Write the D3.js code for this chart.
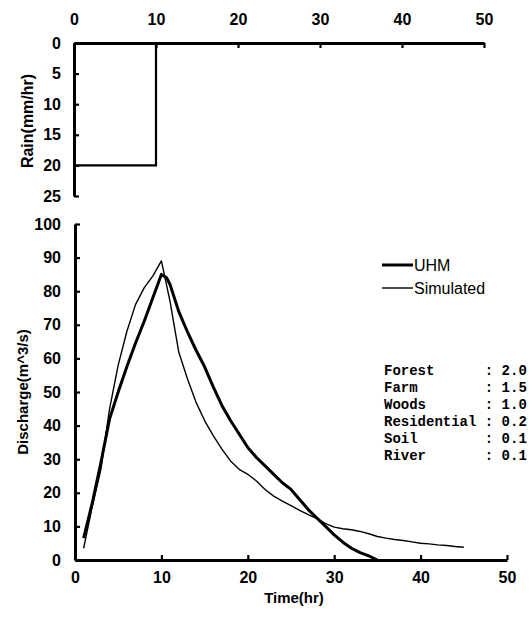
<!DOCTYPE html>
<html>
<head>
<meta charset="utf-8">
<script src="https://cdn.jsdelivr.net/npm/d3@7"></script>
<style>
  body { margin: 0; background: #fff; }
  text { font-family: "Liberation Sans", Arial, sans-serif; fill: #000; }
  .mono { font-family: "Liberation Mono", "DejaVu Sans Mono", monospace; font-weight: bold; font-size: 14px; }
</style>
</head>
<body>
<div class="chart"></div>
<script>
var svgWidth = 530;
var svgHeight = 617;

// rainfall hyetograph (mm/hr)
var rainTime = [0, 10, 10];
var rainValue = [20, 20, 0];

// discharge series (m^3/s)
var uhmTime = [1, 2, 3, 4, 5, 6, 7, 8, 9, 10, 10.6, 11, 12, 13, 14, 15, 16, 17, 18, 19, 20,
  21, 22, 23, 24, 25, 26, 27, 28, 29, 30, 31, 32, 33, 34, 35];
var uhmValue = [6.5, 17, 29, 42, 50, 57.5, 64.5, 71, 78, 85, 84, 82, 74, 68, 62.5, 57.5, 51.5, 46, 41.5, 37.5, 33.5,
  30.5, 28, 25.5, 23, 21, 18, 15, 12.5, 10, 7.5, 5.3, 3.5, 2.2, 1.2, 0];

var simTime = [1, 2, 3, 4, 5, 6, 7, 8, 9, 10, 11, 12, 13, 14, 15, 16, 17, 18, 19, 20,
  21, 22, 23, 24, 25, 26, 27, 28, 29, 30, 31, 32, 33, 34, 35, 36, 37, 38, 39, 40,
  41, 42, 43, 44, 45];
var simValue = [3.5, 16, 27, 45, 58, 68, 76, 81, 84.5, 89, 77, 62, 54, 47, 41.5, 37, 33, 29.5, 27, 25.5,
  23.5, 21, 19, 17.5, 16.2, 14.8, 13.5, 12.3, 10.8, 9.8, 9.3, 9, 8.5, 7.8, 7, 6.5, 6.1, 5.8, 5.4, 5,
  4.8, 4.5, 4.3, 4, 3.8];

var topTicks = [0, 10, 20, 30, 40, 50];
var rainTicks = [0, 5, 10, 15, 20, 25];
var timeTicks = [0, 10, 20, 30, 40, 50];
var flowTicks = [0, 10, 20, 30, 40, 50, 60, 70, 80, 90, 100];

var legendNames = ["UHM", "Simulated"];
var landUse = ["Forest", "Farm", "Woods", "Residential", "Soil", "River"];
var landValue = ["2.0", "1.5", "1.0", "0.2", "0.1", "0.1"];

var svg = d3.select(".chart")
  .append("svg")
  .attr("width", svgWidth)
  .attr("height", svgHeight);

// scales
var xTop = d3.scaleLinear().domain([0, 50]).range([74, 484]);
var yRain = d3.scaleLinear().domain([0, 25]).range([43, 196]);
var xBot = d3.scaleLinear().domain([0, 50]).range([75, 507]);
var yFlow = d3.scaleLinear().domain([0, 100]).range([560, 224]);

function styleAxis(g) {
  g.attr("font-family", null).attr("font-size", null);
  g.select(".domain").attr("stroke-width", 3);
  g.selectAll(".tick line").attr("stroke-width", 2.2);
  g.selectAll(".tick text")
    .style("font-size", "16px")
    .style("font-weight", "bold");
}

// rain chart axes
svg.append("g")
  .attr("transform", `translate(0, ${yRain(0)})`)
  .call(d3.axisTop(xTop).tickValues(topTicks).tickSizeInner(-5).tickSizeOuter(0).tickPadding(18))
  .call(styleAxis);

svg.append("g")
  .attr("transform", `translate(${xTop(0)}, 0)`)
  .call(d3.axisLeft(yRain).tickValues(rainTicks).tickSizeInner(-5).tickSizeOuter(0).tickPadding(13))
  .call(styleAxis);

var rainLine = d3.line()
  .x(d => xTop(d[0]))
  .y(d => yRain(d[1]));

svg.append("path")
  .datum(rainTime.map((t, i) => [t, rainValue[i]]))
  .attr("d", rainLine)
  .attr("fill", "none")
  .attr("stroke", "#000")
  .attr("stroke-width", 2.2);

svg.append("text")
  .attr("transform", `translate(27, 121) rotate(-90)`)
  .attr("text-anchor", "middle")
  .attr("dy", "0.35em")
  .style("font-size", "16px")
  .style("font-weight", "bold")
  .text("Rain(mm/hr)");

// discharge chart axes
svg.append("g")
  .attr("transform", `translate(0, ${yFlow(0)})`)
  .call(d3.axisBottom(xBot).tickValues(timeTicks).tickSizeInner(-5).tickSizeOuter(0).tickPadding(12))
  .call(styleAxis);

svg.append("g")
  .attr("transform", `translate(${xBot(0)}, 0)`)
  .call(d3.axisLeft(yFlow).tickValues(flowTicks).tickSizeInner(-5).tickSizeOuter(0).tickPadding(14))
  .call(styleAxis);

var flowLine = d3.line()
  .x(d => xBot(d[0]))
  .y(d => yFlow(d[1]));

svg.append("path")
  .datum(uhmTime.map((t, i) => [t, uhmValue[i]]))
  .attr("d", flowLine)
  .attr("fill", "none")
  .attr("stroke", "#000")
  .attr("stroke-width", 3)
  .attr("stroke-linejoin", "round");

svg.append("path")
  .datum(simTime.map((t, i) => [t, simValue[i]]))
  .attr("d", flowLine)
  .attr("fill", "none")
  .attr("stroke", "#000")
  .attr("stroke-width", 1.4)
  .attr("stroke-linejoin", "round");

svg.append("text")
  .attr("transform", `translate(23, 392) rotate(-90)`)
  .attr("text-anchor", "middle")
  .attr("dy", "0.35em")
  .style("font-size", "15px")
  .style("font-weight", "bold")
  .text("Discharge(m^3/s)");

svg.append("text")
  .attr("x", 294)
  .attr("y", 603)
  .attr("text-anchor", "middle")
  .style("font-size", "15px")
  .style("font-weight", "bold")
  .text("Time(hr)");

// legend
var legend = svg.append("g")
  .attr("transform", "translate(382, 265)");

legend.selectAll("line")
  .data(legendNames)
  .enter()
  .append("line")
  .attr("x1", 0)
  .attr("x2", 31)
  .attr("y1", (d, i) => i * 23)
  .attr("y2", (d, i) => i * 23)
  .attr("stroke", "#000")
  .attr("stroke-width", (d, i) => i === 0 ? 3 : 1.4);

legend.selectAll("text")
  .data(legendNames)
  .enter()
  .append("text")
  .attr("x", 32)
  .attr("y", (d, i) => i * 23)
  .attr("dy", "0.36em")
  .style("font-size", "16px")
  .text(d => d);

// land use parameters
var params = svg.append("g")
  .attr("transform", "translate(384, 375)");

params.selectAll("text")
  .data(landUse)
  .enter()
  .append("text")
  .attr("class", "mono")
  .attr("x", 0)
  .attr("y", (d, i) => i * 17)
  .attr("xml:space", "preserve")
  .text((d, i) => (d + "            ").slice(0, 12) + ": " + landValue[i]);
</script>
</body>
</html>
